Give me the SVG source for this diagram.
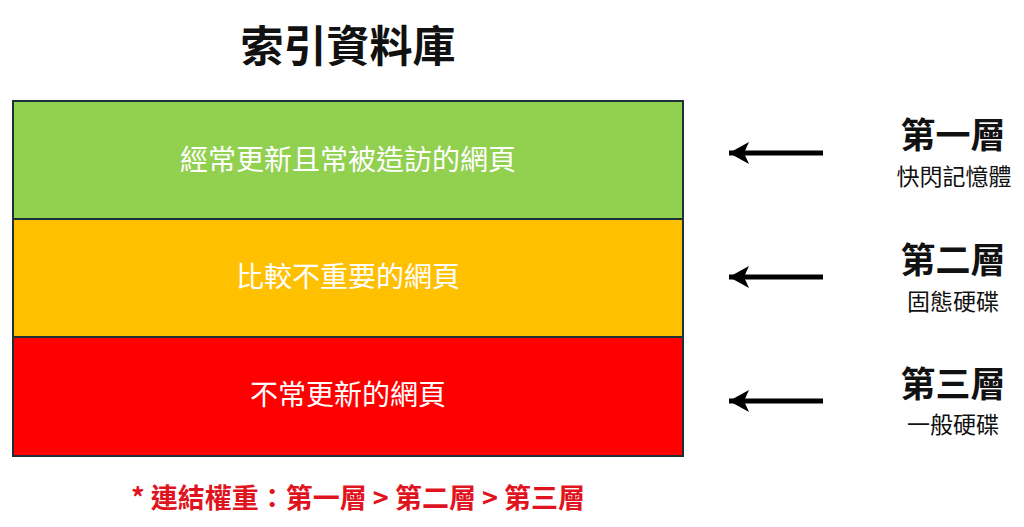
<svg xmlns="http://www.w3.org/2000/svg" width="1024" height="527" viewBox="0 0 1024 527">
<style>
.t{font-family:"Noto Sans CJK TC","Noto Sans CJK SC",sans-serif}
.box{stroke:#1e3035;stroke-width:2}
.bt{fill:#ffffff;font-size:28px;text-anchor:middle}
.lv{fill:#111;font-size:35px;font-weight:bold;text-anchor:middle}
.sb{fill:#111;font-size:23px;text-anchor:middle}
.ar{stroke:#000;stroke-width:5;fill:none}
</style>
<defs>
<marker id="ah" markerUnits="userSpaceOnUse" markerWidth="22" markerHeight="22" refX="20" refY="11" orient="auto">
<path d="M0,0 L20,11 L0,22 L5,11 Z" fill="#000"/>
</marker>
</defs>
<rect width="1024" height="527" fill="#fff"/>
<text class="t" x="348" y="62" font-size="43" font-weight="bold" text-anchor="middle" fill="#111">索引資料庫</text>
<g id="layer1"><rect class="box" x="13" y="101" width="670" height="118" fill="#92d050"/><text class="t bt" x="348" y="170">經常更新且常被造訪的網頁</text></g>
<g id="layer2"><rect class="box" x="13" y="219" width="670" height="118" fill="#ffc000"/><text class="t bt" x="348" y="287">比較不重要的網頁</text></g>
<g id="layer3"><rect class="box" x="13" y="337" width="670" height="119" fill="#ff0000"/><text class="t bt" x="348" y="405">不常更新的網頁</text></g>
<g id="connectors">
<line class="ar" x1="823" y1="153" x2="729" y2="153" marker-end="url(#ah)"/>
<line class="ar" x1="823" y1="277" x2="729" y2="277" marker-end="url(#ah)"/>
<line class="ar" x1="823" y1="401" x2="729" y2="401" marker-end="url(#ah)"/>
</g>
<g id="tier1"><text class="t lv" x="953" y="148">第一層</text><text class="t sb" x="954" y="185">快閃記憶體</text></g>
<g id="tier2"><text class="t lv" x="953" y="273">第二層</text><text class="t sb" x="953" y="310">固態硬碟</text></g>
<g id="tier3"><text class="t lv" x="953" y="397">第三層</text><text class="t sb" x="953" y="433">一般硬碟</text></g>
<text class="t" x="358" y="508" font-size="27" font-weight="bold" text-anchor="middle" fill="#e0141e">* 連結權重：第一層 &gt; 第二層 &gt; 第三層</text>
</svg>
